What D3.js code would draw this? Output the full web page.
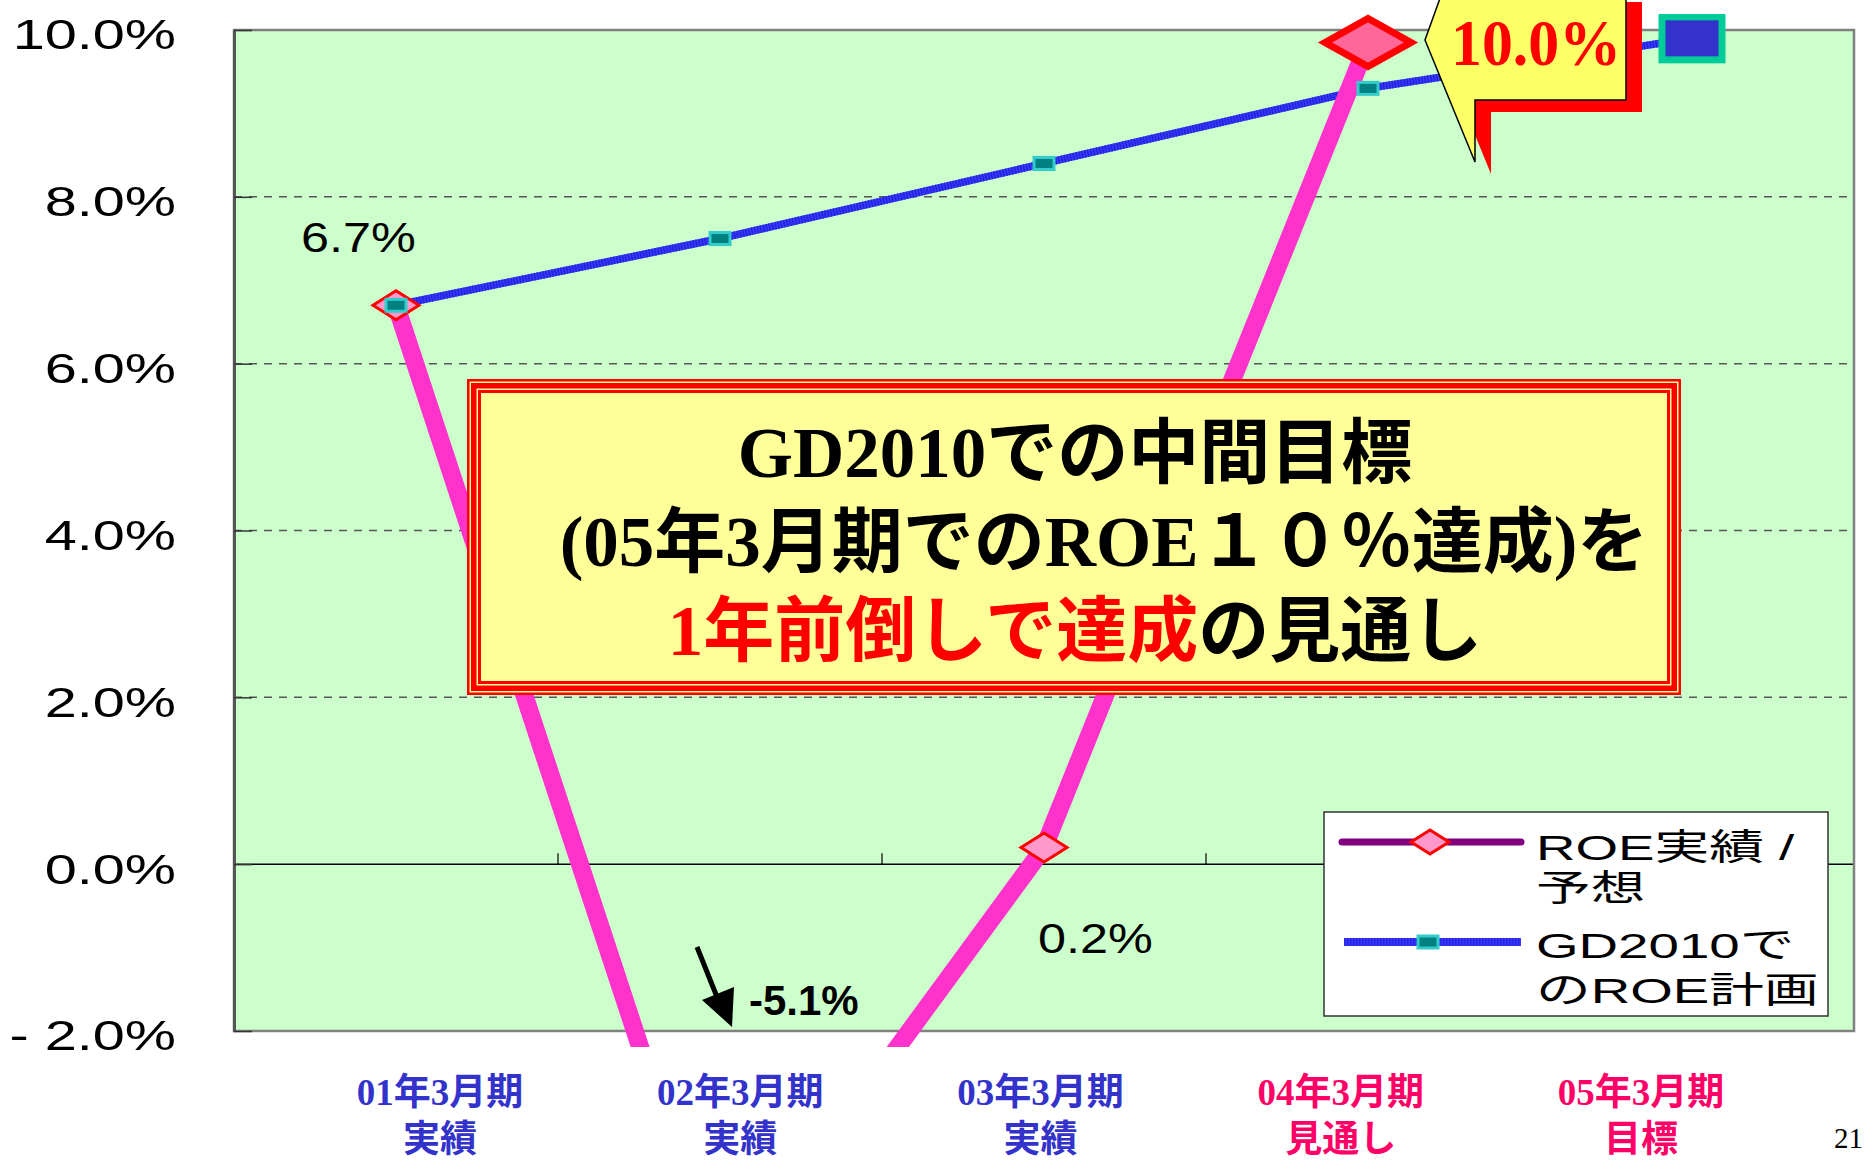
<!DOCTYPE html>
<html lang="ja">

<head>
  <meta charset="UTF-8">
  <title>ROE</title>
  <style>
    body { margin: 0; background: #fff; }
  </style>
</head>

<body>
  <svg id="svg" width="1867" height="1161"></svg>

  <script src="https://d3js.org/d3.v7.min.js"></script>
  <script>
    // data
    const periods = ['01年3月期', '02年3月期', '03年3月期', '04年3月期', '05年3月期']
    const periodNotes = ['実績', '実績', '実績', '見通し', '目標']
    const roeActual = [6.7, -5.1, 0.2, 9.85]
    const roePlan = [6.7, 7.5, 8.4, 9.3, 9.9]
    const yTicks = [-2, 0, 2, 4, 6, 8, 10]
    const yTickLabels = ['- 2.0%', '0.0%', '2.0%', '4.0%', '6.0%', '8.0%', '10.0%']
    const legendRoe = ['ROE実績 /', '予想']
    const legendPlan = ['GD2010で', 'のROE計画']

    const svg = d3.select('#svg')
    const plotL = 234, plotR = 1854, plotT = 30, plotB = 1031
    const sans = 'Liberation Sans, Arial, Noto Sans CJK JP, sans-serif'
    const serifJp = 'Liberation Serif, Times New Roman, Noto Sans CJK JP, serif'

    const x = d3.scaleBand().domain(periods).range([plotL, plotR])
    const cx = p => x(p) + x.bandwidth() / 2
    const y = d3.scaleLinear().domain([-2, 10]).range([plotB, plotT])

    // plot area
    svg.append('rect')
      .attr('x', plotL).attr('y', plotT)
      .attr('width', plotR - plotL).attr('height', plotB - plotT)
      .attr('fill', '#CCFFCC')

    // dashed gridlines
    svg.selectAll('.grid')
      .data(yTicks.filter(d => d > 0 && d < 10))
      .enter()
      .append('line')
      .attr('x1', plotL).attr('x2', plotR)
      .attr('y1', d => y(d)).attr('y2', d => y(d))
      .attr('stroke', '#555').attr('stroke-width', 1.5)
      .attr('stroke-dasharray', '8,7')

    // category axis at 0%
    svg.append('line')
      .attr('x1', plotL).attr('x2', plotR)
      .attr('y1', y(0)).attr('y2', y(0))
      .attr('stroke', '#000').attr('stroke-width', 1.5)
    svg.selectAll('.ctick')
      .data(periods.slice(1))
      .enter()
      .append('line')
      .attr('x1', d => x(d)).attr('x2', d => x(d))
      .attr('y1', y(0)).attr('y2', y(0) - 11)
      .attr('stroke', '#000').attr('stroke-width', 1.2)

    // border
    svg.append('rect')
      .attr('x', plotL).attr('y', plotT)
      .attr('width', plotR - plotL).attr('height', plotB - plotT)
      .attr('fill', 'none').attr('stroke', '#808080').attr('stroke-width', 2.5)

    // y axis
    const yAxis = d3.axisLeft(y)
      .tickValues(yTicks)
      .tickFormat((d, i) => yTickLabels[i])
      .tickSize(-18).tickSizeOuter(0).tickPadding(0)
    const gy = svg.append('g').attr('transform', `translate(${plotL},0)`).call(yAxis)
    gy.select('.domain').attr('stroke', '#555').attr('stroke-width', 3)
    gy.selectAll('.tick line').attr('stroke', '#333').attr('stroke-width', 1.5)
    gy.selectAll('.tick text')
      .attr('x', -58 / 1.34)
      .attr('dy', '0.44em')
      .attr('transform', 'scale(1.34,1)')
      .attr('font-family', sans).attr('font-size', 43).attr('fill', '#000')

    // clip for the series
    svg.append('clipPath').attr('id', 'clip')
      .append('rect')
      .attr('x', plotL).attr('y', 14)
      .attr('width', plotR - plotL).attr('height', plotB + 16 - 14)

    const series = svg.append('g').attr('clip-path', 'url(#clip)')

    // plan line (blue, striped)
    const planLine = d3.line().x((d, i) => cx(periods[i])).y(d => y(d))
    series.append('path').datum(roePlan)
      .attr('d', planLine).attr('fill', 'none')
      .attr('stroke', '#3838FF').attr('stroke-width', 7.5)
    series.append('path').datum(roePlan)
      .attr('d', planLine).attr('fill', 'none')
      .attr('stroke', '#2424DC').attr('stroke-width', 7.5)
      .attr('stroke-dasharray', '1.5,1.5')

    // ROE line (magenta)
    const roeLine = d3.line().x((d, i) => cx(periods[i])).y(d => y(d))
    series.append('path').datum(roeActual)
      .attr('d', roeLine).attr('fill', 'none')
      .attr('stroke', '#FF33CC').attr('stroke-width', 18)
      .attr('stroke-linejoin', 'miter')

    const diamond = (w, h) => `M${-w / 2},0L0,${-h / 2}L${w / 2},0L0,${h / 2}Z`

    // ROE markers
    series.selectAll('.roeMark')
      .data(roeActual)
      .enter()
      .append('path')
      .attr('transform', (d, i) => `translate(${cx(periods[i])},${y(d)})`)
      .attr('d', (d, i) => i < 3 ? diamond(46, 29) : diamond(86, 48))
      .attr('fill', (d, i) => i < 3 ? '#FF99CC' : '#FF6699')
      .attr('stroke', '#FF0000')
      .attr('stroke-width', (d, i) => i < 3 ? 3 : 7)
      .attr('stroke-linejoin', 'miter')

    // plan markers
    series.selectAll('.planMark')
      .data(roePlan)
      .enter()
      .append('rect')
      .each(function (d, i) {
        const big = i === roePlan.length - 1
        const w = big ? 60 : 20, h = big ? 43 : 12
        d3.select(this)
          .attr('x', cx(periods[i]) - w / 2).attr('y', y(d) - h / 2)
          .attr('width', w).attr('height', h)
          .attr('fill', big ? '#3333CC' : '#008080')
          .attr('stroke', big ? '#00CC99' : '#33CCCC')
          .attr('stroke-width', big ? 7 : 3)
      })

    // point labels
    svg.append('text')
      .attr('transform', `translate(${cx(periods[0]) - 95},${y(roeActual[0]) - 53}) scale(1.2,1)`)
      .attr('font-family', sans).attr('font-size', 42)
      .text('6.7%')
    svg.append('text')
      .attr('transform', `translate(${cx(periods[2]) - 6},${y(roeActual[2]) + 106}) scale(1.2,1)`)
      .attr('font-family', sans).attr('font-size', 42)
      .text('0.2%')
    svg.append('text')
      .attr('x', cx(periods[1]) + 29).attr('y', y(-2) - 16)
      .attr('font-family', sans).attr('font-size', 42).attr('font-weight', 'bold')
      .text('-5.1%')

    // arrow to the off-chart -5.1% point
    const ax = cx(periods[1]), ay = y(-2)
    svg.append('line')
      .attr('x1', ax - 23).attr('y1', ay - 84)
      .attr('x2', ax - 3).attr('y2', ay - 34)
      .attr('stroke', '#000').attr('stroke-width', 5)
    svg.append('polygon')
      .attr('points', [[ax + 12, ay - 4], [ax - 18, ay - 31], [ax + 14, ay - 44]].join(' '))
      .attr('fill', '#000')

    // callout for 10.0%
    const bx = cx(periods[3]), by = y(10)
    const callout = [[75, -40], [57, 10], [107, 132], [107, 70], [258, 70], [258, -40]]
    svg.append('polygon')
      .attr('points', callout.map(p => [bx + p[0] + 16, by + p[1] + 12]).join(' '))
      .attr('fill', '#FF0000')
    svg.append('polygon')
      .attr('points', callout.map(p => [bx + p[0], by + p[1]]).join(' '))
      .attr('fill', '#FFFF66').attr('stroke', '#000').attr('stroke-width', 1.5)
    svg.append('text')
      .attr('x', bx + 83).attr('y', by + 35)
      .attr('font-family', serifJp).attr('font-size', 66).attr('font-weight', 'bold')
      .attr('fill', '#FF0000')
      .attr('textLength', 170).attr('lengthAdjust', 'spacingAndGlyphs')
      .text('10.0%')

    // central message box
    const box = { x: 467, y: 379, w: 1214, h: 316 }
    const rings = [[0, '#FF0000'], [2.5, '#FFFF99'], [4, '#FF0000'], [9.5, '#FFFF99'], [11, '#FF0000'], [14, '#FFFF99']]
    svg.selectAll('.ring')
      .data(rings)
      .enter()
      .append('rect')
      .attr('x', d => box.x + d[0]).attr('y', d => box.y + d[0])
      .attr('width', d => box.w - 2 * d[0]).attr('height', d => box.h - 2 * d[0])
      .attr('fill', d => d[1])

    const msg = svg.append('g')
      .attr('font-family', serifJp).attr('font-size', 71).attr('font-weight', 'bold')
      .attr('text-anchor', 'middle')
    msg.append('text').attr('x', 1075).attr('y', 477).text('GD2010での中間目標')
    msg.append('text').attr('x', 1104).attr('y', 566).text('(05年3月期でのROE１０％達成)を')
    const l3 = msg.append('text').attr('x', 1075).attr('y', 655)
    l3.append('tspan').attr('fill', '#FF0000').text('1年前倒しで達成')
    l3.append('tspan').attr('fill', '#000').text('の見通し')

    // legend
    svg.append('rect')
      .attr('x', 1324).attr('y', 812).attr('width', 504).attr('height', 204)
      .attr('fill', '#fff').attr('stroke', '#333').attr('stroke-width', 1.5)
    svg.append('line')
      .attr('x1', 1342).attr('x2', 1521).attr('y1', 842).attr('y2', 842)
      .attr('stroke', '#800080').attr('stroke-width', 7).attr('stroke-linecap', 'round')
    svg.append('path')
      .attr('transform', 'translate(1430,842)')
      .attr('d', diamond(38, 24))
      .attr('fill', '#FF99CC').attr('stroke', '#FF0000').attr('stroke-width', 3)
    svg.append('line')
      .attr('x1', 1344).attr('x2', 1521).attr('y1', 942).attr('y2', 942)
      .attr('stroke', '#3838FF').attr('stroke-width', 8)
    svg.append('line')
      .attr('x1', 1344).attr('x2', 1521).attr('y1', 942).attr('y2', 942)
      .attr('stroke', '#2424DC').attr('stroke-width', 8).attr('stroke-dasharray', '1.5,1.5')
    svg.append('rect')
      .attr('x', 1418).attr('y', 936).attr('width', 20).attr('height', 12)
      .attr('fill', '#008080').attr('stroke', '#33CCCC').attr('stroke-width', 3)

    const legendLines = legendRoe.concat(legendPlan)
    const legendBase = [860, 901, 958, 1003]
    svg.selectAll('.legText')
      .data(legendLines)
      .enter()
      .append('text')
      .attr('transform', (d, i) => `translate(1536,${legendBase[i]}) scale(1.52,1)`)
      .attr('font-family', sans).attr('font-size', 36)
      .text(d => d)

    // period labels under the chart
    const lx = d3.scalePoint().domain(periods).range([440, 1641])
    const labelColor = (d, i) => i < 3 ? '#3333CC' : '#FF0066'
    svg.selectAll('.pLabel')
      .data(periods)
      .enter()
      .append('text')
      .attr('x', d => lx(d)).attr('y', 1105)
      .attr('text-anchor', 'middle')
      .attr('font-family', serifJp).attr('font-size', 37).attr('font-weight', 'bold')
      .attr('fill', labelColor)
      .text(d => d)
    svg.selectAll('.pNote')
      .data(periodNotes)
      .enter()
      .append('text')
      .attr('x', (d, i) => lx(periods[i])).attr('y', 1152)
      .attr('text-anchor', 'middle')
      .attr('font-family', serifJp).attr('font-size', 37).attr('font-weight', 'bold')
      .attr('fill', labelColor)
      .text(d => d)

    // page number
    svg.append('text')
      .attr('x', 1834).attr('y', 1148)
      .attr('font-family', serifJp).attr('font-size', 29)
      .text('21')
  </script>
</body>

</html>
